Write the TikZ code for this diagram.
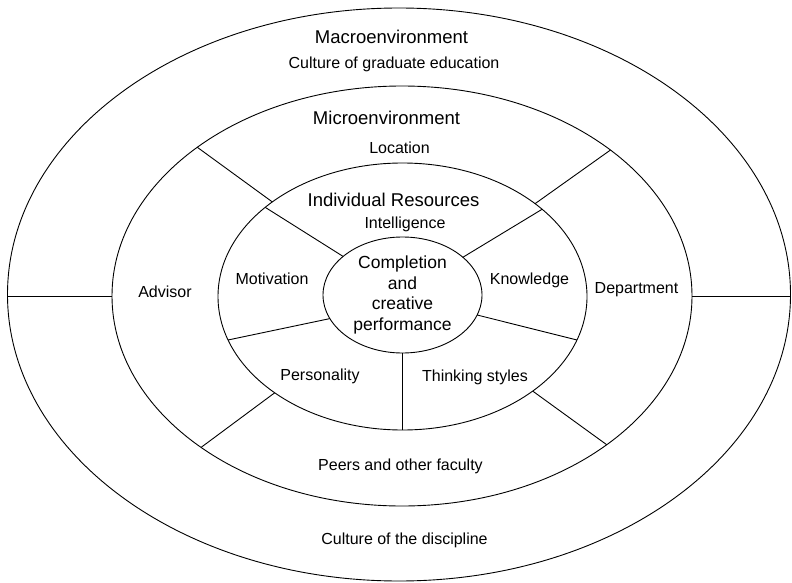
\documentclass[tikz,border=0pt]{standalone}
\usepackage{fontspec}
\setmainfont{Liberation Sans}
\usetikzlibrary{shapes.geometric}

\begin{document}
\begin{tikzpicture}[x=1pt, y=-1pt]

    % --- Grundeinstellungen für Styles ---
    % Koordinaten in Pixeln, y-Achse nach unten
    \tikzset{
        ring/.style={draw, ellipse, line width=0.9pt, inner sep=0pt, outer sep=0pt},
        spoke/.style={line width=0.9pt},
        ringtitle/.style={font=\fontsize{18.5}{22}\selectfont},
        ringtext/.style={font=\fontsize{16}{19}\selectfont}
    }

    \useasboundingbox (0,0) rectangle (792,583);

    % --- 1. Ellipsen (von außen nach innen) ---
    \node[ring, minimum width=783, minimum height=573] (macro) at (399, 294.5) {};
    \node[ring, minimum width=580, minimum height=420] (micro) at (402, 296) {};
    \node[ring, minimum width=369, minimum height=267] (indiv) at (402.5, 296.5) {};
    \node[ring, minimum width=159, minimum height=116, align=center,
          font=\fontsize{17.5}{20.5}\selectfont] (core) at (402.5, 295)
          {Completion\\and\\creative\\performance};

    % --- 2. Trennlinien ---
    % Makroumgebung links/rechts (waagerecht)
    \draw[spoke] (micro.180) -- (micro.180 -| macro.180);
    \draw[spoke] (micro.0) -- (micro.0 -| macro.0);

    % Mikroumgebung
    \draw[spoke] (micro.144) -- (indiv.144);
    \draw[spoke] (micro.35) -- (indiv.35);
    \draw[spoke] (micro.217) -- (indiv.217);
    \draw[spoke] (micro.324) -- (indiv.324);

    % Individuelle Ressourcen
    \draw[spoke] (indiv.147) -- (core.147);
    \draw[spoke] (indiv.32) -- (core.32);
    \draw[spoke] (indiv.194) -- (core.198);
    \draw[spoke] (indiv.346) -- (core.345);
    \draw[spoke] (indiv.270) -- (core.270);

    % --- 3. Beschriftungen ---
    \node[ringtitle] (macrotitle) at (391.5, 37) {Macroenvironment};
    \node[ringtext] (gradculture) at (394, 64) {Culture of graduate education};

    \node[ringtitle] (microtitle) at (386.5, 118) {Microenvironment};
    \node[ringtext] (location) at (399.5, 148) {Location};
    \node[ringtext] (advisor) at (165, 292) {Advisor};
    \node[ringtext] (department) at (636.5, 290) {Department};
    \node[ringtext] (peers) at (400.5, 466) {Peers and other faculty};

    \node[ringtitle] (indivtitle) at (393.5, 200) {Individual Resources};
    \node[ringtext] (intelligence) at (405, 224) {Intelligence};
    \node[ringtext] (motivation) at (272, 279) {Motivation};
    \node[ringtext] (knowledge) at (529.5, 280) {Knowledge};
    \node[ringtext] (personality) at (320, 376) {Personality};
    \node[ringtext] (thinking) at (475, 377) {Thinking styles};

    \node[ringtext] (discipline) at (404.5, 540) {Culture of the discipline};

\end{tikzpicture}
\end{document}
